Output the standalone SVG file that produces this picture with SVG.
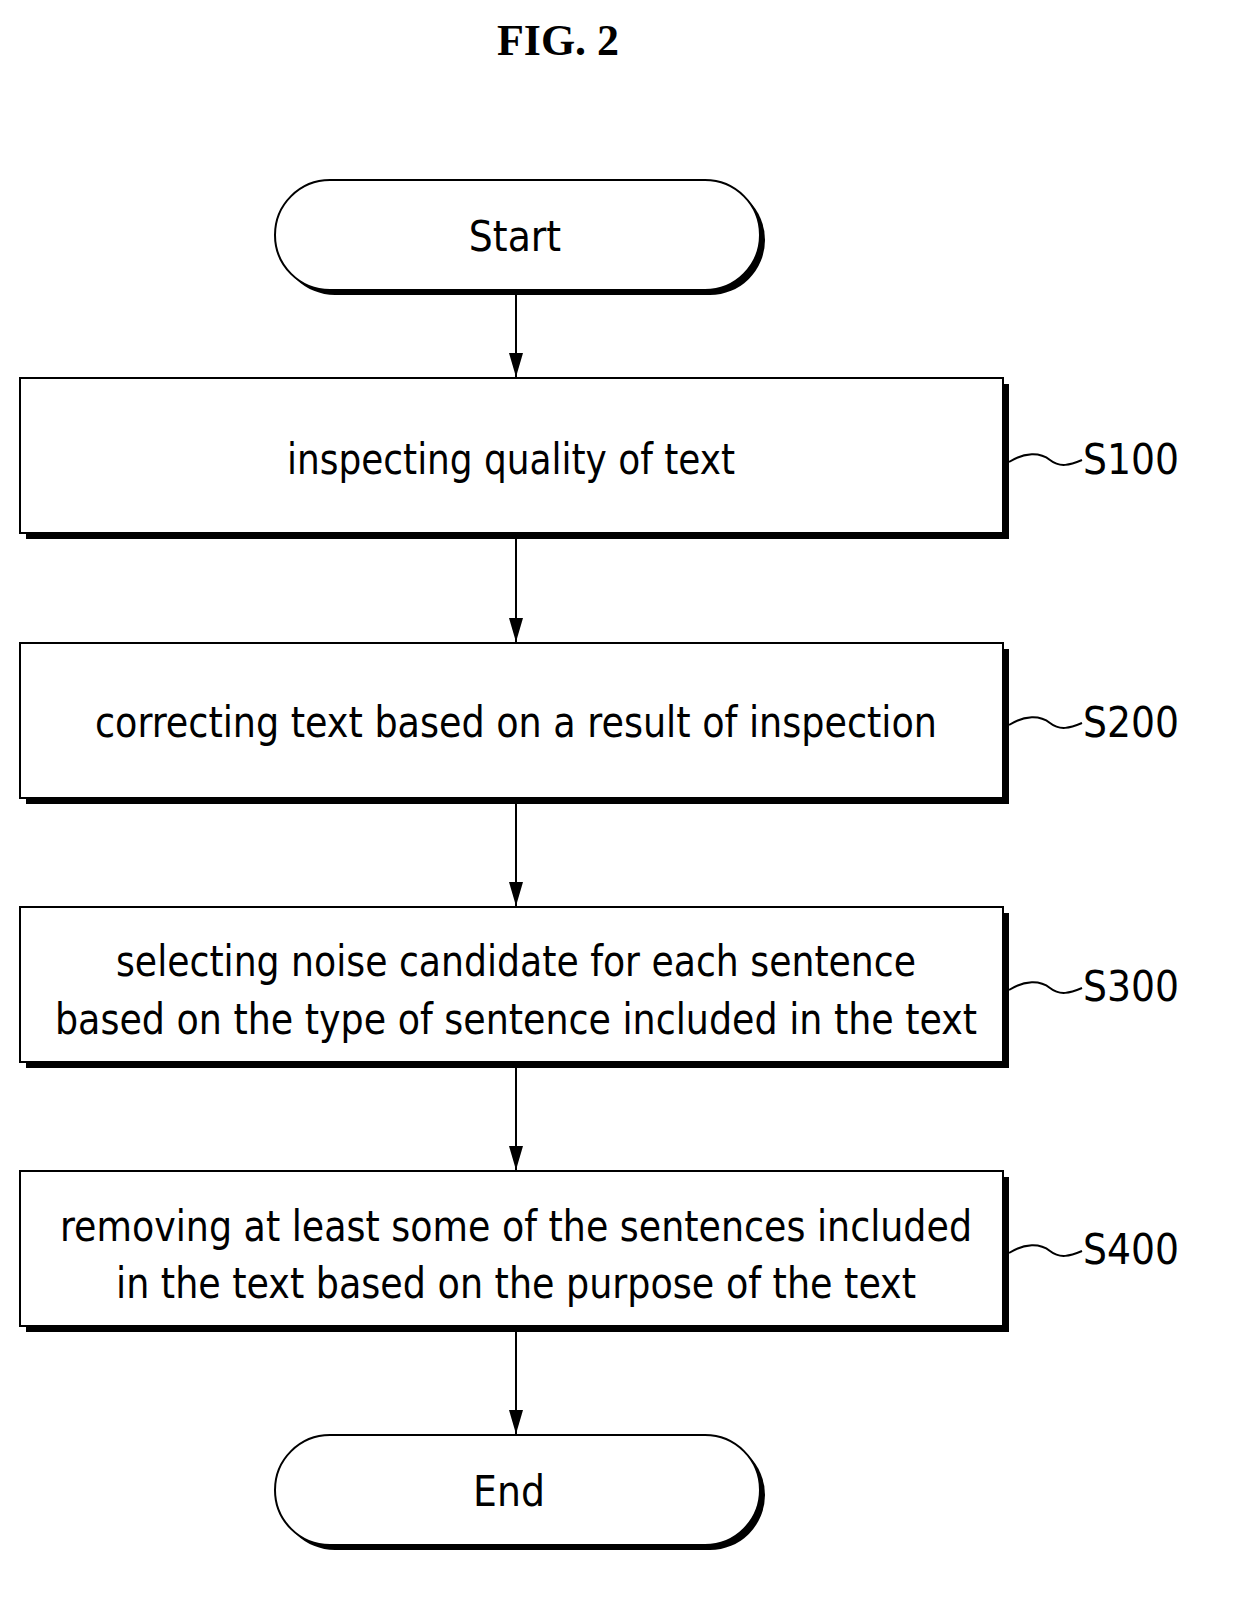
<svg xmlns="http://www.w3.org/2000/svg" width="1234" height="1615" viewBox="0 0 1234 1615">
<style>
.t{font-family:"DejaVu Sans Condensed","Liberation Sans",sans-serif;font-size:42px;fill:#000;text-anchor:middle}
.sh{fill:#000}
.b{fill:#fff;stroke:#000;stroke-width:2}
.c{stroke:#000;stroke-width:2;fill:none}
</style>
<defs>
<marker id="ar" markerWidth="24" markerHeight="14" refX="24" refY="7" orient="auto" markerUnits="userSpaceOnUse" viewBox="0 0 24 14"><path d="M0,0 L24,7 L0,14 Z" fill="#000"/></marker></defs>
<rect width="1234" height="1615" fill="#fff"/>
<text x="558" y="55" style="font-family:'Liberation Serif',serif;font-size:44px;font-weight:bold;text-anchor:middle">FIG. 2</text>
<g id="start"><rect class="sh" x="280" y="185" width="485" height="110" rx="55"/><rect class="b" x="275" y="180" width="485" height="110" rx="55"/><text class="t" x="515" y="251">Start</text></g>
<g id="s100"><rect class="sh" x="26" y="384" width="983" height="155"/><rect class="b" x="20" y="378" width="983" height="155"/><text class="t" x="511" y="474" textLength="448" lengthAdjust="spacingAndGlyphs">inspecting quality of text</text><text class="t" x="1131" y="474" textLength="96" lengthAdjust="spacingAndGlyphs">S100</text></g>
<g id="s200"><rect class="sh" x="26" y="649" width="983" height="155"/><rect class="b" x="20" y="643" width="983" height="155"/><text class="t" x="516" y="737" textLength="842" lengthAdjust="spacingAndGlyphs">correcting text based on a result of inspection</text><text class="t" x="1131" y="737" textLength="96" lengthAdjust="spacingAndGlyphs">S200</text></g>
<g id="s300"><rect class="sh" x="26" y="913" width="983" height="155"/><rect class="b" x="20" y="907" width="983" height="155"/><text class="t" x="516" y="976" textLength="800" lengthAdjust="spacingAndGlyphs">selecting noise candidate for each sentence</text><text class="t" x="516" y="1034" textLength="922" lengthAdjust="spacingAndGlyphs">based on the type of sentence included in the text</text><text class="t" x="1131" y="1001" textLength="96" lengthAdjust="spacingAndGlyphs">S300</text></g>
<g id="s400"><rect class="sh" x="26" y="1177" width="983" height="155"/><rect class="b" x="20" y="1171" width="983" height="155"/><text class="t" x="516" y="1241" textLength="912" lengthAdjust="spacingAndGlyphs">removing at least some of the sentences included</text><text class="t" x="516" y="1298" textLength="800" lengthAdjust="spacingAndGlyphs">in the text based on the purpose of the text</text><text class="t" x="1131" y="1264" textLength="96" lengthAdjust="spacingAndGlyphs">S400</text></g>
<g id="end"><rect class="sh" x="280" y="1440" width="485" height="110" rx="55"/><rect class="b" x="275" y="1435" width="485" height="110" rx="55"/><text class="t" x="509" y="1506">End</text></g>
<g id="connectors">
<line class="c" x1="516" y1="290" x2="516" y2="377" marker-end="url(#ar)"/>
<line class="c" x1="516" y1="539" x2="516" y2="642" marker-end="url(#ar)"/>
<line class="c" x1="516" y1="804" x2="516" y2="906" marker-end="url(#ar)"/>
<line class="c" x1="516" y1="1068" x2="516" y2="1170" marker-end="url(#ar)"/>
<line class="c" x1="516" y1="1332" x2="516" y2="1434" marker-end="url(#ar)"/>
<path class="c" d="M1009,462 C1025,452 1040,452 1050,460 C1060,468 1070,465 1082,460"/>
<path class="c" d="M1009,725 C1025,715 1040,715 1050,723 C1060,731 1070,728 1082,723"/>
<path class="c" d="M1009,990 C1025,980 1040,980 1050,988 C1060,996 1070,993 1082,988"/>
<path class="c" d="M1009,1253 C1025,1243 1040,1243 1050,1251 C1060,1259 1070,1256 1082,1251"/>
</g>
</svg>
